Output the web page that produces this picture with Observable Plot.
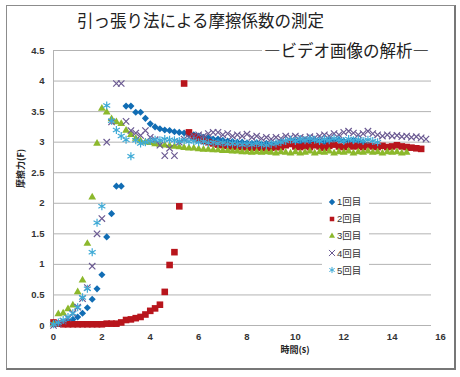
<!DOCTYPE html>
<html><head><meta charset="utf-8">
<script src="https://cdn.jsdelivr.net/npm/d3@7"></script>
<script src="https://cdn.jsdelivr.net/npm/@observablehq/plot@0.6"></script>
<style>
body{margin:0;background:#fff;}
#wrap{position:relative;width:460px;height:377px;overflow:hidden;font-family:"Noto Sans CJK JP","Noto Sans",sans-serif;}
#wrap svg.plot{position:absolute;left:0;top:0;}
#frame{position:absolute;left:6px;top:5px;width:447px;height:362px;border:1px solid #8c8c8c;border-right:2px solid #777;border-bottom:2px solid #777;}
#title{position:absolute;left:77px;top:10px;font-size:16.5px;line-height:20px;color:#222;white-space:nowrap;}
#subtitle{position:absolute;left:262px;top:40px;font-size:16.5px;line-height:20px;color:#222;white-space:nowrap;background:#fff;padding:0 2px;}
#legend{position:absolute;left:322px;top:193px;width:47px;background:#fff;font-family:"Liberation Sans","Noto Sans CJK JP",sans-serif;font-size:9.5px;color:#333;}
#legend div{height:17.2px;line-height:17.2px;display:flex;align-items:center;white-space:nowrap;}
#legend svg{margin-left:6px;margin-right:1px;}
</style></head>
<body>
<div id="wrap">
  <div id="frame"></div>
</div>
<script>
// sample times (s) of the video frames
const time = [0,0.2,0.4,0.6,0.8,1.0,1.2,1.4, 1.6,1.8,2.0,2.2,2.4,2.6,2.8,3.0,
  3.2,3.4,3.6,3.8,4.0,4.2,4.4,4.6, 4.8,5.0,5.2,5.4,5.6,5.8,6.0,6.2,
  6.4,6.6,6.8,7.0,7.2,7.4,7.6,7.8, 8.0,8.2,8.4,8.6,8.8,9.0,9.2,9.4,
  9.6,9.8,10.0,10.2,10.4,10.6,10.8,11.0, 11.2,11.4,11.6,11.8,12.0,12.2,12.4,12.6,
  12.8,13.0,13.2,13.4,13.6,13.8,14.0,14.2, 14.4,14.6,14.8,15.0,15.2,15.4];

const seriesNames = ["1回目","2回目","3回目","4回目","5回目"];
const seriesColors = ["#116db4","#b8151c","#8cb82c","#6b5a92","#3eaad6"];
const seriesSymbols = ["diamond2","square2","triangle2","times","asterisk"];

const f1 = [0.02,0.03,0.05,0.07,0.10,0.14,0.20,0.29, 0.43,0.60,0.83,1.45,1.83,2.28,2.28,3.59,
  3.59,3.49,3.49,3.39,3.30,3.25,3.22,3.20, 3.19,3.17,3.16,3.15,3.13,3.12,3.10,3.08,
  3.07,3.05,3.05,3.03,3.02,3.01,3.00,3.00, 2.99,2.98,2.99,2.97,2.98,2.96,2.97,2.99,
  3.00,3.01,3.02,3.00,3.03,3.01,3.04,3.02, 3.00,3.03,3.01,3.04,3.02,3.00,3.03,3.01,
  3.00];
const f2 = [0.05,0.03,0.02,0.02,0.02,0.02,0.02,0.02, 0.02,0.02,0.02,0.03,0.03,0.03,0.05,0.09,
  0.10,0.12,0.14,0.18,0.24,0.28,0.34,0.55, 0.99,1.20,1.95,3.96,3.16,3.09,3.05,3.02,
  3.00,2.98,2.96,2.95,2.94,2.93,2.93,2.92, 2.92,2.91,2.92,2.91,2.90,2.91,2.92,2.92,
  2.95,2.97,2.93,2.92,2.94,2.92,2.95,2.93, 2.91,2.94,2.96,2.93,2.92,2.95,2.93,2.94,
  2.92,2.95,2.93,2.92,2.94,2.92,2.93,2.95, 2.93,2.92,2.91,2.90,2.89];
const f3 = [0.02,0.19,0.20,0.27,0.33,0.55,0.74,1.34, 2.10,2.98,3.55,3.49,3.38,3.33,3.30,3.19,
  3.12,3.06,3.02,3.00,2.99,2.97,2.96,2.95, 2.94,2.93,2.92,2.91,2.90,2.90,2.89,2.88,
  2.88,2.87,2.87,2.86,2.86,2.85,2.85,2.84, 2.84,2.83,2.84,2.83,2.84,2.83,2.82,2.84,
  2.83,2.82,2.84,2.82,2.83,2.85,2.82,2.84, 2.83,2.85,2.82,2.84,2.83,2.85,2.82,2.84,
  2.83,2.85,2.83,2.84,2.82,2.84,2.83,2.84, 2.82,2.83];
const f4 = [0.00,0.03,0.07,0.12,0.20,0.30,0.44,0.62, 0.97,1.50,1.75,3.00,3.33,3.96,3.96,3.34,
  3.19,3.15,3.11,3.19,3.08,3.04,2.95,2.78, 2.90,2.78,3.00,3.05,3.08,3.10,3.12,3.10,
  3.14,3.16,3.16,3.12,3.14,3.10,3.12,3.10, 3.13,3.08,3.10,3.06,3.08,3.05,3.08,3.06,
  3.10,3.08,3.10,3.08,3.06,3.09,3.07,3.10, 3.12,3.10,3.14,3.12,3.16,3.18,3.15,3.12,
  3.14,3.18,3.14,3.12,3.10,3.12,3.10,3.11, 3.09,3.10,3.08,3.09,3.07,3.05];
const f5 = [0.02,0.05,0.09,0.14,0.20,0.30,0.46,0.60, 1.20,1.68,1.95,3.60,3.35,3.20,3.10,3.04,
  2.77,3.03,2.98,3.00,3.02,3.04,3.03,3.05, 3.04,3.03,3.02,3.03,3.01,3.02,3.00,3.01,
  2.99,3.00,2.98,2.99,2.97,2.98,2.97,2.96, 2.97,2.96,2.98,2.96,2.95,2.97,2.98,3.00,
  3.02,3.04,3.02,3.05,3.03,3.06,3.04,3.02, 3.05,3.03,3.06,3.04,3.02,3.05,3.03,3.04,
  3.02,3.04,3.02,3.00];

const xTicks = [0,2,4,6,8,10,12,14,16];
const yTicks = [0,0.5,1,1.5,2,2.5,3,3.5,4,4.5];

const allF = [f1,f2,f3,f4,f5];
const tables = allF.map((f,k)=>f.map((v,i)=>({t:time[i], f:v, s:seriesNames[k]})));

const symR = [3.2,4.2,3.7,3.0,3.8];
const dotMarks = tables.map((tab,k)=>{
  const filled = k<3;
  return Plot.dot(tab,{x:"t",y:"f",symbol:()=>seriesSymbols[k],r:symR[k],
    fill: filled?seriesColors[k]:"none", stroke: filled?"none":seriesColors[k], strokeWidth:1.2});
});

const chart = Plot.plot({
  width:460, height:377,
  marginLeft:53, marginRight:20, marginTop:50, marginBottom:52,
  x:{domain:[0,16]},
  y:{domain:[0,4.5]},
  symbol:{type:"identity"},
  style:{fontFamily:"'Liberation Sans',Arial,sans-serif",fontSize:"9.5px",fontWeight:"bold",color:"#333",background:"transparent"},
  marks:[
    Plot.ruleY(yTicks,{stroke:"#b3b3b3",strokeWidth:1,insetRight:9}),
    Plot.ruleX([0],{stroke:"#b3b3b3",strokeWidth:1}),
    Plot.axisY(yTicks,{tickSize:0,tickPadding:9,label:null,tickFormat:d=>String(d)}),
    Plot.axisX(xTicks,{tickSize:0,tickPadding:8,label:null,tickFormat:d=>String(d)}),
    Plot.text(["摩擦力(F)"],{frameAnchor:"left",rotate:-90,dx:-32,fontSize:9,fontWeight:"bold",fill:"#222",fontFamily:"'Noto Sans CJK JP',sans-serif"}),
    Plot.text(["時間(s)"],{frameAnchor:"bottom",dx:48,dy:27,fontSize:9,fontWeight:"bold",fill:"#222",fontFamily:"'Noto Sans CJK JP',sans-serif"}),
    ...dotMarks
  ]
});
chart.classList.add("plot");
const wrap = document.getElementById("wrap");
wrap.insertBefore(chart, wrap.firstChild);

const title = document.createElement("div");
title.id="title"; title.textContent="引っ張り法による摩擦係数の測定";
wrap.appendChild(title);
const sub = document.createElement("div");
sub.id="subtitle"; sub.textContent="―ビデオ画像の解析―";
wrap.appendChild(sub);

const legend = document.createElement("div");
legend.id="legend";
const symMap = {diamond2:d3.symbolDiamond2,square2:d3.symbolSquare2,triangle2:d3.symbolTriangle2,times:d3.symbolTimes,asterisk:d3.symbolAsterisk};
seriesNames.forEach((name,k)=>{
  const row = document.createElement("div");
  const filled = k<3;
  const p = d3.symbol(symMap[seriesSymbols[k]], 26)();
  row.innerHTML = `<svg width="8" height="8" viewBox="-4 -4 8 8"><path d="${p}" fill="${filled?seriesColors[k]:"none"}" stroke="${filled?"none":seriesColors[k]}" stroke-width="1"/></svg><span>${name}</span>`;
  legend.appendChild(row);
});
wrap.appendChild(legend);
</script>
</body></html>
